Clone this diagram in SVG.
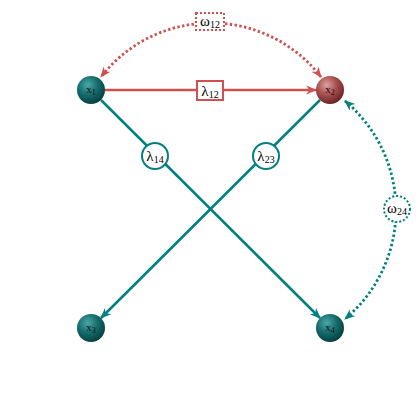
<svg xmlns="http://www.w3.org/2000/svg" width="420" height="420" viewBox="0 0 420 420">
<style>
.red{stroke:#d05050;fill:none;stroke-width:2.5}
.teal{stroke:#008080;fill:none;stroke-width:2.5}
.dot{stroke-width:2.8;stroke-dasharray:2.4 2.4}
.nl{font-family:"Liberation Serif","DejaVu Serif",serif;font-size:11px;fill:#111;text-anchor:middle}
.lab{font-family:"Liberation Serif","DejaVu Serif",serif;font-size:15px;fill:#000;text-anchor:middle}
.sub{font-size:10px}
</style>
<defs>
<radialGradient id="gT" cx="0.38" cy="0.32" r="0.7">
<stop offset="0" stop-color="#4aa8a8"/>
<stop offset="0.5" stop-color="#176d6d"/>
<stop offset="1" stop-color="#053f3f"/>
</radialGradient>
<radialGradient id="gR" cx="0.38" cy="0.32" r="0.7">
<stop offset="0" stop-color="#dca0a0"/>
<stop offset="0.5" stop-color="#a85050"/>
<stop offset="1" stop-color="#6a2222"/>
</radialGradient>
<marker id="aR" viewBox="0 0 10 10" refX="9" refY="5" markerWidth="11" markerHeight="11" markerUnits="userSpaceOnUse" orient="auto-start-reverse">
<path d="M0,1 L10,5 L0,9 L3,5 Z" fill="#d05050"/>
</marker>
<marker id="aT" viewBox="0 0 10 10" refX="9" refY="5" markerWidth="11" markerHeight="11" markerUnits="userSpaceOnUse" orient="auto-start-reverse">
<path d="M0,1 L10,5 L0,9 L3,5 Z" fill="#008080"/>
</marker>
</defs>
<g id="connectors">
<path class="red dot" d="M321,77 A139,139 0 0 0 101,77" marker-start="url(#aR)" marker-end="url(#aR)"/>
<path class="teal dot" d="M345,101 A142,142 0 0 1 345,319" marker-start="url(#aT)" marker-end="url(#aT)"/>
<line class="red" x1="105" y1="90" x2="316" y2="90" marker-end="url(#aR)"/>
<line class="teal" x1="101" y1="100" x2="320" y2="318" marker-end="url(#aT)"/>
<line class="teal" x1="320" y1="100" x2="101" y2="318" marker-end="url(#aT)"/>
<g id="label-w12">
<rect x="196" y="13" width="28" height="17" fill="#fff" stroke="#d05050" stroke-width="2" stroke-dasharray="2 2"/>
<text class="lab" x="210" y="26">ω<tspan class="sub" dy="2">12</tspan></text>
</g>
<g id="label-l12">
<rect x="197" y="81" width="26" height="19" fill="#fff" stroke="#d05050" stroke-width="2"/>
<text class="lab" x="210" y="96">λ<tspan class="sub" dy="2">12</tspan></text>
</g>
<g id="label-l14">
<circle cx="155" cy="156" r="13" fill="#fff" stroke="#008080" stroke-width="2"/>
<text class="lab" x="155" y="161">λ<tspan class="sub" dy="2">14</tspan></text>
</g>
<g id="label-l23">
<circle cx="266" cy="156" r="13" fill="#fff" stroke="#008080" stroke-width="2"/>
<text class="lab" x="266" y="161">λ<tspan class="sub" dy="2">23</tspan></text>
</g>
<g id="label-w24">
<circle cx="397" cy="209" r="13" fill="#fff" stroke="#008080" stroke-width="2" stroke-dasharray="2 2"/>
<text class="lab" x="397" y="213">ω<tspan class="sub" dy="2">24</tspan></text>
</g>
</g>
<g id="x1"><circle cx="91" cy="90" r="14" fill="url(#gT)"/><text class="nl" x="91" y="93">x<tspan font-size="8" dy="2">1</tspan></text></g>
<g id="x2"><circle cx="330" cy="90" r="14" fill="url(#gR)"/><text class="nl" x="330" y="93">x<tspan font-size="8" dy="2">2</tspan></text></g>
<g id="x3"><circle cx="91" cy="328" r="14" fill="url(#gT)"/><text class="nl" x="91" y="331">x<tspan font-size="8" dy="2">3</tspan></text></g>
<g id="x4"><circle cx="330" cy="328" r="14" fill="url(#gT)"/><text class="nl" x="330" y="331">x<tspan font-size="8" dy="2">4</tspan></text></g>
</svg>
